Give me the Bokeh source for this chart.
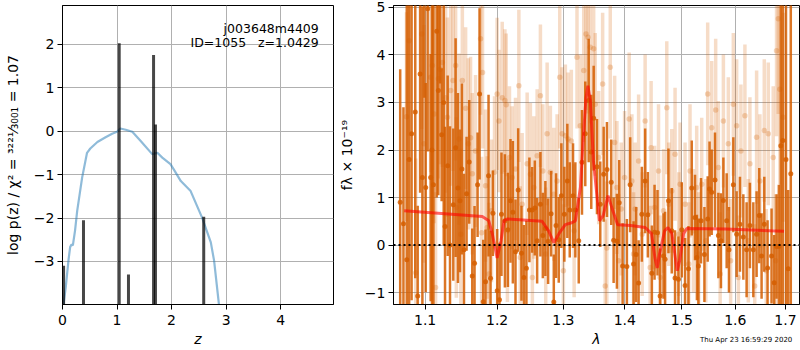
from bokeh.plotting import figure
from bokeh.layouts import row
from bokeh.models import (ColumnDataSource, Range1d, FixedTicker, Label, Span,
                          CustomJSTickFormatter, Div)
from bokeh.embed import file_html
from bokeh.resources import INLINE

# ---------------- left panel: redshift PDF ----------------
pz_peak_z = [0.02, 0.385, 1.04, 1.21, 1.67, 1.705, 2.59]
pz_peak_logp = [-3.10, -2.05, 2.02, -3.30, 1.75, 0.15, -1.97]

prior_z = [0.02, 0.06, 0.11, 0.14, 0.165, 0.19, 0.23, 0.27, 0.36, 0.45, 0.51,
           0.64, 0.79, 0.91, 1.00, 1.06, 1.16, 1.28, 1.43, 1.645, 1.74, 1.83,
           1.98, 2.04, 2.17, 2.35, 2.56, 2.72, 2.78, 2.87]
prior_logp = [-3.98, -3.59, -2.97, -2.67, -2.61, -2.63, -2.29, -1.83, -1.07,
              -0.50, -0.40, -0.25, -0.14, -0.06, -0.015, 0.06, 0.03, -0.015,
              -0.22, -0.53, -0.50, -0.61, -0.76, -0.88, -1.15, -1.38, -1.99,
              -2.56, -2.98, -4.00]

left_xticks = [0, 1, 2, 3, 4]
left_yticks = [-3, -2, -1, 0, 1, 2]
title_line1 = "j003648m4409"
title_line2 = "ID=1055\u00a0\u00a0\u00a0z=1.0429"
left_ylabel = "log p(z) / \u03c7\u00b2 = \u00b3\u00b2\u00b2\u00b9\u2044\u2083\u2080\u2080\u2081 = 1.07"

# ---------------- right panel: spectrum ----------------
dark_wave = [1.0674, 1.0716, 1.0759, 1.0790, 1.0822, 1.0870, 1.0902, 1.0934,
             1.0964, 1.0990, 1.1008, 1.1034, 1.1074, 1.1092, 1.1111, 1.1155,
             1.1177, 1.1200, 1.1222, 1.1250, 1.1268, 1.1304, 1.1336, 1.1381,
             1.1413, 1.1445, 1.1473, 1.1500, 1.1529, 1.1565, 1.1602, 1.1645,
             1.1677, 1.1720, 1.1748, 1.1800, 1.1833, 1.1876, 1.1905, 1.1939,
             1.2001, 1.2034, 1.2063, 1.2113, 1.2157, 1.2195, 1.2230, 1.2269,
             1.2309, 1.2358, 1.2394, 1.2432, 1.2477, 1.2518, 1.2559, 1.2594,
             1.2644, 1.2681, 1.2720, 1.2762, 1.2808, 1.2850, 1.2885, 1.2927,
             1.2968, 1.3015, 1.3062, 1.3100, 1.3152, 1.3189, 1.3243, 1.3295,
             1.3348, 1.3403, 1.3445, 1.3484, 1.3538, 1.3592, 1.3648, 1.3702,
             1.3773, 1.3813, 1.3868, 1.3907, 1.3964, 1.4036, 1.4092, 1.4150,
             1.4194, 1.4236, 1.4292, 1.4349, 1.4396, 1.4466, 1.4513, 1.4565,
             1.4611, 1.4671, 1.4699, 1.4759, 1.4818, 1.4877, 1.4938, 1.4998,
             1.5058, 1.5120, 1.5180, 1.5240, 1.5275, 1.5303, 1.5351, 1.5414,
             1.5475, 1.5510, 1.5550, 1.5612, 1.5676, 1.5725, 1.5771, 1.5834,
             1.5878, 1.5962, 1.6026, 1.6090, 1.6156, 1.6220, 1.6285, 1.6352,
             1.6417, 1.6470, 1.6516, 1.6570, 1.6636, 1.6716, 1.6770, 1.6817,
             1.6864, 1.6904, 1.6945, 1.7010, 1.7056, 1.7109]
dark_flux = [0.90, 0.45, -0.31, 1.80, 2.34, 2.80, -1.07, 3.60,
             1.42, 5.60, 1.21, 4.97, 1.42, 2.00, 1.27, 4.50,
             3.25, 5.40, 2.32, 3.00, 0.39, 1.67, 0.00, 0.85,
             2.05, 1.20, 0.93, 1.60, -0.10, 1.08, 1.75, -0.65,
             -0.38, 1.27, 3.18, -1.19, -0.77, 1.46, -0.70, 0.67,
             -0.96, -1.15, 0.65, 0.51, 0.32, 0.93, 0.69, -0.14,
             1.16, -0.17, -0.68, -0.49, 0.74, 0.74, 0.78, 0.09,
             0.86, 0.20, 0.35, 0.08, 0.66, -1.20, 0.41, 0.11,
             1.04, 0.65, 1.35, 0.74, 1.04, 0.74, 0.09, 1.74,
             2.34, 3.04, 1.96, 2.67, 1.65, 0.86, 1.49, 1.59,
             1.32, 0.10, 0.08, 0.89, -0.44, -0.45, 1.27, -0.40,
             -0.20, -0.80, 0.65, 1.35, 0.64, -0.59, 0.27, 0.26,
             -1.07, -0.23, -0.30, 0.93, 0.30, -0.69, -0.72, 0.32,
             -0.85, -0.50, 1.20, 0.58, -0.26, -0.44, 0.51, -0.20,
             0.55, 1.18, 1.11, 1.37, 0.20, 0.09, 0.94, 0.51,
             -0.10, 1.27, 0.23, 0.44, 0.17, -0.10, 0.41, -0.10,
             0.23, 0.62, -0.23, 0.44, -0.48, -0.23, -0.79, -0.03,
             -0.03, 2.09, 2.20, 1.80, -0.50, 1.50]
dark_err = [2.80, 2.45, 5.50, 4.50, 3.50, 3.50, 1.90, 2.50,
            3.60, 2.50, 2.20, 3.00, 2.60, 4.00, 3.90, 3.50,
            2.20, 2.00, 1.40, 3.00, 2.10, 1.90, 2.50, 1.60,
            2.30, 2.00, 1.50, 1.80, 1.60, 1.20, 1.30, 1.00,
            1.20, 1.10, 1.80, 1.30, 1.10, 1.70, 1.00, 0.90,
            1.30, 1.20, 1.30, 1.40, 1.20, 1.30, 1.50, 1.10,
            1.30, 1.00, 1.10, 1.00, 1.10, 0.90, 1.00, 0.90,
            1.10, 0.90, 1.00, 0.90, 0.90, 1.00, 1.10, 0.90,
            1.10, 1.00, 1.20, 1.00, 1.10, 1.00, 0.90, 1.10,
            1.10, 1.30, 1.20, 1.10, 1.00, 0.90, 1.00, 1.00,
            0.90, 0.90, 1.00, 0.90, 0.90, 1.00, 1.00, 0.90,
            1.00, 0.90, 1.00, 1.10, 0.90, 1.00, 1.00, 0.90,
            1.00, 0.90, 1.00, 1.10, 0.90, 1.00, 0.90, 1.00,
            1.00, 0.90, 1.00, 0.90, 0.90, 1.00, 0.90, 1.00,
            0.90, 1.00, 0.90, 1.00, 0.90, 1.00, 0.90, 1.00,
            0.90, 1.00, 0.90, 1.00, 0.90, 1.00, 0.90, 1.00,
            0.90, 1.00, 0.90, 1.00, 1.00, 1.00, 1.00, 1.10,
            1.30, 3.50, 4.00, 5.00, 1.66, 5.00]

light_wave = [1.0755, 1.0790, 1.0877, 1.0955, 1.0985, 1.1074, 1.1097, 1.1140,
              1.1120, 1.1177, 1.1201, 1.1232, 1.1276, 1.1300, 1.1345, 1.1377,
              1.1413, 1.1423, 1.1460, 1.1485, 1.1506, 1.1552, 1.1590, 1.1621,
              1.1645, 1.1691, 1.1762, 1.1790, 1.1777, 1.1833, 1.1857, 1.1882,
              1.1919, 1.1962, 1.2000, 1.2026, 1.2074, 1.2113, 1.2150, 1.2132,
              1.2180, 1.2220, 1.2269, 1.2319, 1.2340, 1.2368, 1.2443, 1.2492,
              1.2522, 1.2544, 1.2594, 1.2644, 1.2681, 1.2725, 1.2747, 1.2797,
              1.2850, 1.2901, 1.2943, 1.2979, 1.3031, 1.3000, 1.3073, 1.3125,
              1.3215, 1.3170, 1.3268, 1.3323, 1.3360, 1.3392, 1.3429, 1.3484,
              1.3510, 1.3566, 1.3631, 1.3674, 1.3700, 1.3757, 1.3830, 1.3868,
              1.3897, 1.3940, 1.3997, 1.4075, 1.4121, 1.4150, 1.4177, 1.4236,
              1.4298, 1.4349, 1.4436, 1.4453, 1.4513, 1.4583, 1.4611, 1.4671,
              1.4729, 1.4765, 1.4818, 1.4877, 1.4943, 1.4967, 1.5058, 1.5125,
              1.5148, 1.5211, 1.5271, 1.5308, 1.5364, 1.5475, 1.5440, 1.5550,
              1.5625, 1.5676, 1.5710, 1.5771, 1.5866, 1.5910, 1.5962, 1.6026,
              1.6060, 1.6109, 1.6187, 1.6253, 1.6285, 1.6417, 1.6380, 1.6482,
              1.6570, 1.6610, 1.6650, 1.6750, 1.6800, 1.6817, 1.6852, 1.6884,
              1.6953]
light_flux = [2.70, 4.30, -0.58, 4.44, 2.13, 3.53, 3.78, -0.89,
              2.76, 3.50, 3.70, 3.84, 3.10, 2.69, 3.25, 3.46,
              3.78, 0.79, 2.23, 0.23, 3.46, 2.88, 2.13, 2.26,
              1.50, 1.98, 4.34, 3.63, 0.26, 1.25, 0.37, -0.61,
              0.72, 1.53, 3.18, 2.61, 3.10, 3.04, 0.30, 2.95,
              1.84, 1.42, 1.60, 3.35, -0.26, 0.86, 1.71, 1.49,
              -0.68, 1.21, 1.88, 3.14, 1.56, -0.19, 2.34, 1.53,
              1.07, 1.35, 3.53, 2.34, 2.30, -0.54, 2.23, 2.19,
              3.95, 0.30, 2.51, 3.67, 4.44, 4.37, 4.16, 4.13,
              2.96, 1.84, 3.39, -0.86, -0.06, 3.74, 2.16, 1.21,
              -0.33, 0.76, 1.42, 2.65, 1.35, -0.19, 0.76, 1.77,
              0.23, 2.61, -0.47, 2.05, 0.79, 1.56, -0.68, 0.72,
              2.89, 0.86, 1.14, 1.91, 0.23, 1.28, 0.86, -0.40,
              1.56, 0.30, 1.21, -0.19, 1.28, 3.18, 0.09, 2.47,
              2.84, 1.63, -0.61, 2.61, 2.13, -0.33, 2.96, 2.51,
              -0.68, 1.98, 2.72, 0.09, 1.71, 2.27, -0.86, 1.35,
              2.41, -0.54, 2.34, 1.84, -0.33, 4.09, 4.76, 3.28,
              2.69]
light_err = [2.2, 2.0, 2.4, 2.0, 2.5, 2.0, 2.2, 2.0,
             2.3, 2.1, 2.0, 2.2, 2.0, 2.1, 2.0, 1.9,
             2.0, 1.9, 1.8, 1.8, 1.9, 1.7, 1.8, 1.7,
             1.7, 1.6, 1.6, 1.6, 1.6, 1.6, 1.5, 1.5,
             1.5, 1.6, 1.6, 1.5, 1.6, 1.5, 1.5, 1.5,
             1.5, 1.5, 1.5, 1.6, 1.5, 1.5, 1.5, 1.5,
             1.4, 1.5, 1.4, 1.5, 1.4, 1.4, 1.5, 1.4,
             1.4, 1.4, 1.5, 1.4, 1.5, 1.4, 1.4, 1.5,
             1.5, 1.4, 1.5, 1.5, 1.6, 1.6, 1.6, 1.5,
             1.5, 1.4, 1.5, 1.4, 1.4, 1.5, 1.4, 1.4,
             1.4, 1.4, 1.4, 1.4, 1.4, 1.3, 1.4, 1.4,
             1.3, 1.4, 1.3, 1.4, 1.3, 1.4, 1.3, 1.3,
             1.4, 1.3, 1.3, 1.4, 1.3, 1.3, 1.3, 1.3,
             1.4, 1.3, 1.3, 1.3, 1.4, 1.5, 1.3, 1.4,
             1.5, 1.4, 1.3, 1.4, 1.4, 1.3, 1.5, 1.4,
             1.3, 1.4, 1.5, 1.3, 1.4, 1.4, 1.3, 1.4,
             1.5, 1.3, 1.5, 1.5, 1.4, 1.8, 2.0, 2.0,
             2.2]

model_wave = [1.0725, 1.1786, 1.1880, 1.1930, 1.2000, 1.2056, 1.2100, 1.2145,
              1.2670, 1.2770, 1.2850, 1.2930, 1.3030, 1.3130, 1.3190, 1.3270,
              1.3320, 1.3360, 1.3390, 1.3430, 1.3480, 1.3535, 1.3580, 1.3640,
              1.3720, 1.3800, 1.3880, 1.4100, 1.4350, 1.4460, 1.4520, 1.4560,
              1.4600, 1.4690, 1.4750, 1.4820, 1.4890, 1.4917, 1.4960, 1.5030,
              1.5090, 1.5820, 1.6970]
model_flux = [0.72, 0.60, 0.51, 0.24, -0.27, 0.09, 0.51, 0.55,
              0.50, 0.30, 0.05, 0.24, 0.43, 0.47, 0.51, 1.21,
              2.34, 3.10, 3.35, 3.04, 1.77, 1.07, 0.51, 0.62,
              1.04, 0.72, 0.43, 0.41, 0.37, 0.24, -0.27, -0.48,
              -0.19, 0.30, 0.37, 0.24, -0.33, -0.54, -0.33, 0.24,
              0.35, 0.34, 0.29]

right_xticks = [1.1, 1.2, 1.3, 1.4, 1.5, 1.6, 1.7]
right_yticks = [-1, 0, 1, 2, 3, 4, 5]
right_ylabel = "f\u03bb \u00d7 10\u207b\u00b9\u2079"
timestamp = "Thu Apr 23 16:59:29 2020"

FONT = "DejaVu Sans"
ORANGE = "#D55E00"


def minus_fmt(decimals):
    return CustomJSTickFormatter(code="""
        const d = %d;
        const a = Math.abs(tick).toFixed(d);
        return (tick < -1e-9 ? '\\u2212' : '') + a;
    """ % decimals)


def style(p):
    p.outline_line_color = "black"
    p.outline_line_width = 1
    p.outline_line_alpha = 1
    p.background_fill_color = "white"
    p.border_fill_color = "white"
    for ax in (p.xaxis[0], p.yaxis[0]):
        ax.major_label_text_font = FONT
        ax.major_label_text_font_size = "14px"
        ax.major_label_text_color = "black"
        ax.axis_label_text_font = FONT
        ax.axis_label_text_font_size = "14px"
        ax.axis_label_text_color = "black"
        ax.major_tick_in = 0
        ax.major_tick_out = 5
        ax.major_tick_line_color = "black"
        ax.minor_tick_line_color = None
        ax.axis_line_color = "black"
        ax.major_label_standoff = 3
    p.xaxis[0].major_label_standoff = 5
    p.xaxis[0].axis_label_standoff = 3
    p.xaxis[0].axis_label_text_font_style = "italic"
    p.yaxis[0].axis_label_text_font_style = "normal"
    p.xgrid.grid_line_color = "#b0b0b0"
    p.ygrid.grid_line_color = "#b0b0b0"
    p.xgrid.grid_line_width = 1
    p.ygrid.grid_line_width = 1


# ---------- left figure ----------
p1 = figure(width=335, height=350, output_backend="svg", toolbar_location=None,
            x_range=Range1d(0, 4.97), y_range=Range1d(-3.99, 2.89),
            min_border_left=62, min_border_right=2, min_border_top=5,
            min_border_bottom=46)
style(p1)
p1.xaxis[0].ticker = FixedTicker(ticks=left_xticks, minor_ticks=[])
p1.yaxis[0].ticker = FixedTicker(ticks=left_yticks, minor_ticks=[])
p1.xgrid.ticker = FixedTicker(ticks=left_xticks)
p1.ygrid.ticker = FixedTicker(ticks=left_yticks)
p1.xaxis[0].formatter = minus_fmt(0)
p1.yaxis[0].formatter = minus_fmt(0)
p1.xaxis[0].axis_label = "z"
p1.yaxis[0].axis_label = left_ylabel
p1.yaxis[0].axis_label_standoff = 10

p1.line(prior_z, prior_logp, line_color="#1f77b4", line_alpha=0.5, line_width=2.2)
pk = ColumnDataSource(dict(z=pz_peak_z, top=pz_peak_logp,
                           bot=[-5.0] * len(pz_peak_z)))
p1.segment(x0="z", y0="bot", x1="z", y1="top", source=pk,
           line_color="black", line_alpha=0.72, line_width=3)

p1.add_layout(Label(x=4.70, y=2.36, text=title_line1, text_align="right",
                    text_baseline="alphabetic", text_font=FONT,
                    text_font_size="12.5px", text_color="black"))
p1.add_layout(Label(x=4.70, y=2.04, text=title_line2, text_align="right",
                    text_baseline="alphabetic", text_font=FONT,
                    text_font_size="12.5px", text_color="black"))

# ---------- right figure ----------
p2 = figure(width=465, height=350, output_backend="svg", toolbar_location=None,
            x_axis_type="log",
            x_range=Range1d(1.0588, 1.729), y_range=Range1d(-1.25, 5.04),
            min_border_left=56, min_border_right=1, min_border_top=5,
            min_border_bottom=46)
style(p2)
p2.xaxis[0].ticker = FixedTicker(ticks=right_xticks, minor_ticks=[])
p2.yaxis[0].ticker = FixedTicker(ticks=right_yticks, minor_ticks=[])
p2.xgrid.ticker = FixedTicker(ticks=right_xticks)
p2.ygrid.ticker = FixedTicker(ticks=right_yticks)
p2.xaxis[0].formatter = minus_fmt(1)
p2.yaxis[0].formatter = minus_fmt(0)
p2.xaxis[0].axis_label = "\u03bb"
p2.yaxis[0].axis_label = right_ylabel
p2.yaxis[0].axis_label_standoff = 7

lsrc = ColumnDataSource(dict(
    w=light_wave, f=light_flux,
    lo=[f - e for f, e in zip(light_flux, light_err)],
    hi=[f + e for f, e in zip(light_flux, light_err)]))
dsrc = ColumnDataSource(dict(
    w=dark_wave, f=dark_flux,
    lo=[f - e for f, e in zip(dark_flux, dark_err)],
    hi=[f + e for f, e in zip(dark_flux, dark_err)]))

p2.segment(x0="w", y0="lo", x1="w", y1="hi", source=lsrc,
           line_color=ORANGE, line_alpha=0.22, line_width=3.5)
p2.scatter("w", "f", source=lsrc, size=5.5, fill_color=ORANGE,
           fill_alpha=0.25, line_color=None)
p2.segment(x0="w", y0="lo", x1="w", y1="hi", source=dsrc,
           line_color=ORANGE, line_alpha=0.85, line_width=2.5)
p2.scatter("w", "f", source=dsrc, size=5, fill_color=ORANGE,
           fill_alpha=0.85, line_color=None)
p2.line(model_wave, model_flux, line_color="red", line_alpha=0.6, line_width=3)

p2.add_layout(Span(location=0, dimension="width", line_color="black",
                   line_dash="2 3", line_width=2))

# timestamp, outside the axes (absolutely positioned text box)
ts = Div(text=timestamp, width=92, height=10,
         styles={"position": "absolute", "left": "695px", "top": "330px",
                 "font-family": FONT, "font-size": "7px", "color": "black",
                 "text-align": "right", "white-space": "nowrap",
                 "line-height": "10px"})

layout = row(p1, p2, ts, spacing=0)
open("out.html", "w").write(file_html(layout, INLINE))
